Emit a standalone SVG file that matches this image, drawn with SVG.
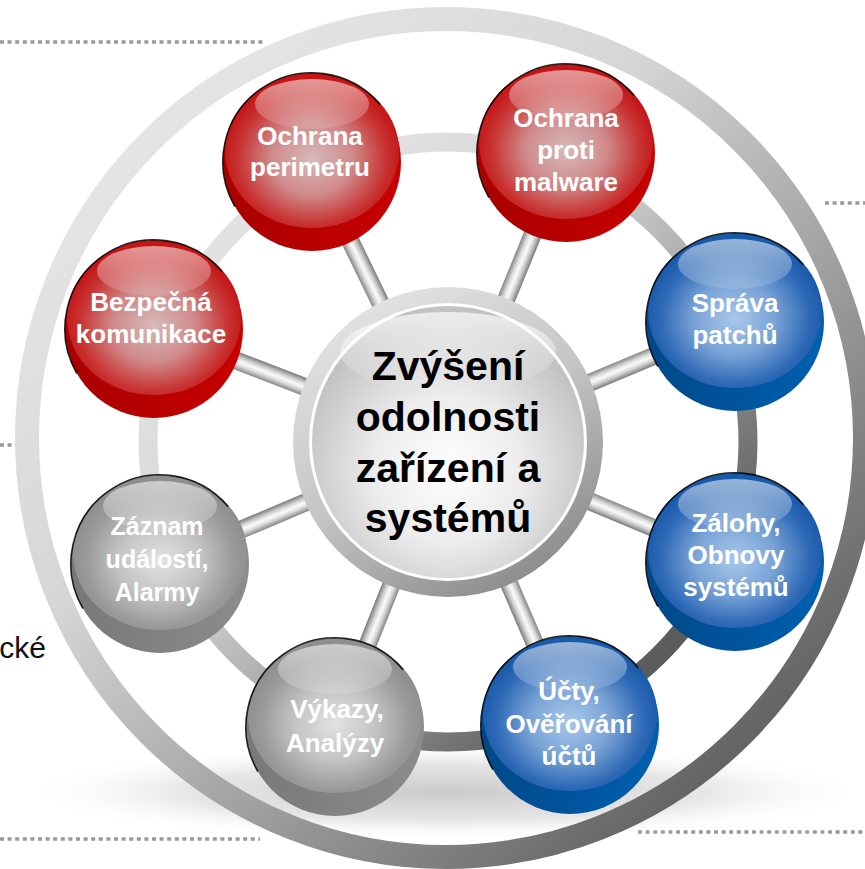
<svg xmlns="http://www.w3.org/2000/svg" xmlns:xlink="http://www.w3.org/1999/xlink" width="865" height="869" viewBox="0 0 865 869">
<style>
  .lbl { font-family: "Liberation Sans", Arial, sans-serif; font-weight: bold; font-size: 26px; fill: #ffffff; text-anchor: middle; }
  .lbl-s { font-size: 25px; }
  .ctr { font-family: "Liberation Sans", Arial, sans-serif; font-weight: bold; font-size: 41px; fill: #000000; text-anchor: middle; }
  .dots { stroke: #9a9a9a; stroke-width: 3.5; stroke-dasharray: 4 3.6; fill: none; }
  .rim { fill: none; stroke: #000; stroke-width: 1.6; opacity: 0.85; }
  .bar { fill: url(#barGrad); }
</style>
<defs>
  <radialGradient id="shadowGrad" cx="0.5" cy="0.5" r="0.5">
    <stop offset="0" stop-color="#b8b8b8" stop-opacity="0.75"/>
    <stop offset="0.6" stop-color="#c8c8c8" stop-opacity="0.45"/>
    <stop offset="1" stop-color="#ffffff" stop-opacity="0"/>
  </radialGradient>
  <linearGradient id="outerRing" gradientUnits="userSpaceOnUse" x1="150" y1="150" x2="760" y2="800">
    <stop offset="0" stop-color="#e4e4e4"/>
    <stop offset="0.3" stop-color="#d6d6d6"/>
    <stop offset="0.65" stop-color="#9a9a9a"/>
    <stop offset="1" stop-color="#5a5a5a"/>
  </linearGradient>
  <linearGradient id="innerRing" gradientUnits="userSpaceOnUse" x1="250" y1="250" x2="650" y2="650">
    <stop offset="0" stop-color="#e2e2e2"/>
    <stop offset="0.35" stop-color="#d4d4d4"/>
    <stop offset="1" stop-color="#5c5c5c"/>
  </linearGradient>
  <linearGradient id="barGrad" x1="0" y1="0" x2="0" y2="1">
    <stop offset="0" stop-color="#858585"/>
    <stop offset="0.3" stop-color="#dcdcdc"/>
    <stop offset="0.5" stop-color="#fbfbfb"/>
    <stop offset="0.72" stop-color="#cfcfcf"/>
    <stop offset="1" stop-color="#7a7a7a"/>
  </linearGradient>
  <linearGradient id="ctrBorder" x1="0.2" y1="0" x2="0.8" y2="1">
    <stop offset="0" stop-color="#e6e6e6"/>
    <stop offset="0.5" stop-color="#c4c4c4"/>
    <stop offset="1" stop-color="#858585"/>
  </linearGradient>
  <radialGradient id="ctrFace" cx="0.5" cy="0.6" r="0.55">
    <stop offset="0" stop-color="#ffffff"/>
    <stop offset="0.5" stop-color="#ececec"/>
    <stop offset="1" stop-color="#c2c2c2"/>
  </radialGradient>
  <linearGradient id="redBase" x1="0" y1="0" x2="1" y2="0">
    <stop offset="0" stop-color="#a80000"/>
    <stop offset="1" stop-color="#c80000"/>
  </linearGradient>
  <radialGradient id="redFace" cx="0.5" cy="0.55" r="0.52">
    <stop offset="0" stop-color="#d6baba"/>
    <stop offset="0.45" stop-color="#d08a8a"/>
    <stop offset="0.82" stop-color="#c83232"/>
    <stop offset="1" stop-color="#c41616"/>
  </radialGradient>
  <linearGradient id="blueBase" x1="0" y1="0" x2="1" y2="0">
    <stop offset="0" stop-color="#004888"/>
    <stop offset="1" stop-color="#0060b0"/>
  </linearGradient>
  <radialGradient id="blueFace" cx="0.5" cy="0.55" r="0.52">
    <stop offset="0" stop-color="#a8c8ea"/>
    <stop offset="0.45" stop-color="#79a3d6"/>
    <stop offset="0.82" stop-color="#2e69b6"/>
    <stop offset="1" stop-color="#1a5aaa"/>
  </radialGradient>
  <linearGradient id="grayBase" x1="0" y1="0" x2="1" y2="0">
    <stop offset="0" stop-color="#787878"/>
    <stop offset="1" stop-color="#8c8c8c"/>
  </linearGradient>
  <radialGradient id="grayFace" cx="0.5" cy="0.55" r="0.52">
    <stop offset="0" stop-color="#e2e2e2"/>
    <stop offset="0.45" stop-color="#c4c4c4"/>
    <stop offset="0.82" stop-color="#9a9a9a"/>
    <stop offset="1" stop-color="#8e8e8e"/>
  </radialGradient>
  <linearGradient id="gloss" x1="0" y1="0" x2="0" y2="1">
    <stop offset="0" stop-color="#ffffff" stop-opacity="0.55"/>
    <stop offset="1" stop-color="#ffffff" stop-opacity="0.12"/>
  </linearGradient>
  <linearGradient id="ctrGloss" x1="0" y1="0" x2="0" y2="1">
    <stop offset="0" stop-color="#ffffff" stop-opacity="0.7"/>
    <stop offset="1" stop-color="#ffffff" stop-opacity="0"/>
  </linearGradient>
  <path id="rim" d="M-77.1,44.5 A89,89 0 0 1 68.2,-57.2"/>
</defs>

<!-- background pieces -->
<g id="dotted-lines">
  <line class="dots" x1="0" y1="42" x2="263" y2="42"/>
  <line class="dots" x1="825" y1="203" x2="865" y2="203"/>
  <line class="dots" x1="0" y1="445" x2="18" y2="445"/>
  <line class="dots" x1="0" y1="839" x2="260" y2="839"/>
  <line class="dots" x1="638" y1="832" x2="865" y2="832"/>
</g>
<text x="46" y="658" font-family="Liberation Sans, Arial, sans-serif" font-size="30" fill="#111" text-anchor="end">cké</text>

<ellipse id="shadow" cx="445" cy="792" rx="430" ry="48" fill="url(#shadowGrad)"/>

<g id="rings">
  <circle cx="446" cy="438" r="419" fill="none" stroke="url(#outerRing)" stroke-width="24"/>
  <circle cx="448" cy="442" r="300" fill="none" stroke="url(#innerRing)" stroke-width="19"/>
</g>

<g id="connectors">
  <g transform="translate(448,442) rotate(-115.91)"><rect class="bar" x="0" y="-9" width="300" height="18"/></g>
  <g transform="translate(448,442) rotate(-67.79)"><rect class="bar" x="0" y="-9" width="300" height="18"/></g>
  <g transform="translate(448,442) rotate(-22.69)"><rect class="bar" x="0" y="-9" width="300" height="18"/></g>
  <g transform="translate(448,442) rotate(22.69)"><rect class="bar" x="0" y="-9" width="300" height="18"/></g>
  <g transform="translate(448,442) rotate(66.68)"><rect class="bar" x="0" y="-9" width="300" height="18"/></g>
  <g transform="translate(448,442) rotate(111.63)"><rect class="bar" x="0" y="-9" width="300" height="18"/></g>
  <g transform="translate(448,442) rotate(157.04)"><rect class="bar" x="0" y="-9" width="300" height="18"/></g>
  <g transform="translate(448,442) rotate(-158.98)"><rect class="bar" x="0" y="-9" width="300" height="18"/></g>
</g>

<g id="node-center">
  <circle cx="448" cy="442" r="155" fill="url(#ctrBorder)"/>
  <circle cx="448" cy="442" r="139" fill="#ffffff"/>
  <circle cx="448" cy="442" r="136" fill="url(#ctrFace)"/>
  <ellipse cx="448" cy="352" rx="108" ry="40" fill="url(#ctrGloss)"/>
  <text class="ctr"><tspan x="448" y="380">Zvýšení</tspan><tspan x="448" y="431">odolnosti</tspan><tspan x="448" y="482">zařízení a</tspan><tspan x="448" y="532">systémů</tspan></text>
</g>

<g id="node-ochrana-perimetru" transform="translate(312,162)">
  <circle r="89" fill="url(#redBase)"/>
  <ellipse cy="-11" rx="87" ry="77" fill="url(#redFace)"/>
  <ellipse cy="-58" rx="57" ry="25" fill="url(#gloss)"/>
  <use href="#rim" class="rim"/>
  <text class="lbl"><tspan x="-2" y="-17">Ochrana</tspan><tspan x="-2" y="14">perimetru</tspan></text>
</g>

<g id="node-ochrana-proti-malware" transform="translate(566,153)">
  <circle r="89" fill="url(#redBase)"/>
  <ellipse cy="-11" rx="87" ry="77" fill="url(#redFace)"/>
  <ellipse cy="-58" rx="57" ry="25" fill="url(#gloss)"/>
  <use href="#rim" class="rim"/>
  <text class="lbl"><tspan x="0" y="-26">Ochrana</tspan><tspan x="0" y="6">proti</tspan><tspan x="0" y="38">malware</tspan></text>
</g>

<g id="node-bezpecna-komunikace" transform="translate(154,329)">
  <circle r="89" fill="url(#redBase)"/>
  <ellipse cy="-11" rx="87" ry="77" fill="url(#redFace)"/>
  <ellipse cy="-58" rx="57" ry="25" fill="url(#gloss)"/>
  <use href="#rim" class="rim"/>
  <text class="lbl"><tspan x="-3" y="-18">Bezpečná</tspan><tspan x="-3" y="14">komunikace</tspan></text>
</g>

<g id="node-sprava-patchu" transform="translate(735,322)">
  <circle r="89" fill="url(#blueBase)"/>
  <ellipse cy="-11" rx="87" ry="77" fill="url(#blueFace)"/>
  <ellipse cy="-58" rx="57" ry="25" fill="url(#gloss)"/>
  <use href="#rim" class="rim"/>
  <text class="lbl"><tspan x="0" y="-10">Správa</tspan><tspan x="0" y="22">patchů</tspan></text>
</g>

<g id="node-zalohy" transform="translate(735,562)">
  <circle r="89" fill="url(#blueBase)"/>
  <ellipse cy="-11" rx="87" ry="77" fill="url(#blueFace)"/>
  <ellipse cy="-58" rx="57" ry="25" fill="url(#gloss)"/>
  <use href="#rim" class="rim"/>
  <text class="lbl"><tspan x="1" y="-30">Zálohy,</tspan><tspan x="1" y="2">Obnovy</tspan><tspan x="1" y="34">systémů</tspan></text>
</g>

<g id="node-ucty" transform="translate(570,725)">
  <circle r="89" fill="url(#blueBase)"/>
  <ellipse cy="-11" rx="87" ry="77" fill="url(#blueFace)"/>
  <ellipse cy="-58" rx="57" ry="25" fill="url(#gloss)"/>
  <use href="#rim" class="rim"/>
  <text class="lbl"><tspan x="-1" y="-25">Účty,</tspan><tspan x="-1" y="8">Ověřování</tspan><tspan x="-1" y="40">účtů</tspan></text>
</g>

<g id="node-vykazy" transform="translate(335,727)">
  <circle r="89" fill="url(#grayBase)"/>
  <ellipse cy="-11" rx="87" ry="77" fill="url(#grayFace)"/>
  <ellipse cy="-58" rx="57" ry="25" fill="url(#gloss)"/>
  <use href="#rim" class="rim"/>
  <text class="lbl"><tspan x="2" y="-9">Výkazy,</tspan><tspan x="0" y="25">Analýzy</tspan></text>
</g>

<g id="node-zaznam" transform="translate(160,564)">
  <circle r="89" fill="url(#grayBase)"/>
  <ellipse cy="-11" rx="87" ry="77" fill="url(#grayFace)"/>
  <ellipse cy="-58" rx="57" ry="25" fill="url(#gloss)"/>
  <use href="#rim" class="rim"/>
  <text class="lbl lbl-s"><tspan x="-3" y="-29">Záznam</tspan><tspan x="-3" y="4">událostí,</tspan><tspan x="-3" y="37">Alarmy</tspan></text>
</g>
</svg>
